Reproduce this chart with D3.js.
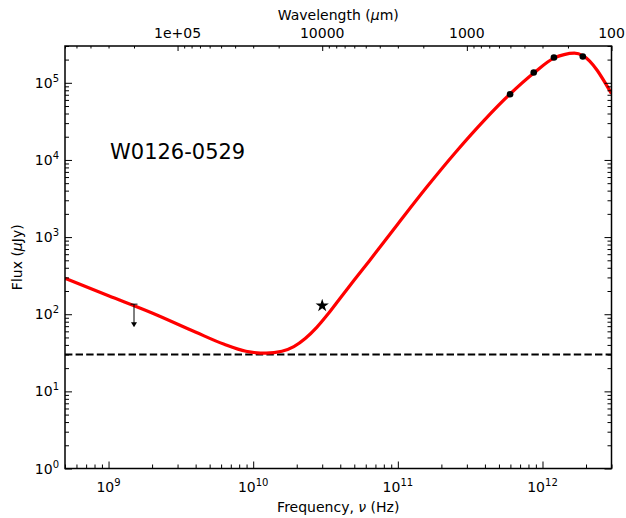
<!DOCTYPE html>
<html>
<head>
<meta charset="utf-8">
<script src="https://cdn.jsdelivr.net/npm/d3@7"></script>
<style>
body { margin: 0; background: #fff; }
svg { font-family: "DejaVu Sans", sans-serif; }
</style>
</head>
<body>
<script>
// model SED (Hz, uJy)
var modelFreq = [5.0e8, 1.0e9, 2.0e9, 3.98e9, 6.31e9, 8.91e9, 1.12e10, 1.23e10, 1.58e10, 1.91e10,
    2.29e10, 2.75e10, 3.31e10, 3.98e10, 5.01e10, 6.31e10, 1.0e11, 1.58e11, 2.51e11, 3.98e11,
    5.97e11, 8.75e11, 1.20e12, 1.41e12, 1.66e12, 1.91e12, 3.0e12];
var modelFlux = [293, 174, 104, 58.9, 40.7, 33.1, 31.4, 31.3, 33.1, 38.0,
    48.4, 67.6, 102, 160, 279, 484, 1480, 4420, 12600, 33100,
    71600, 1.35e5, 2.09e5, 2.32e5, 2.42e5, 2.24e5, 7.24e4];

// far-IR photometry
var photFreq = [5.97e11, 8.7e11, 1.2e12, 1.9e12];
var photFlux = [7.1e4, 1.36e5, 2.13e5, 2.19e5];

// radio detection (star) and upper limit
var starFreq = [3.0e10];
var starFlux = [129];
var limitFreq = [1.5e9];
var limitFlux = [135];
var limitLow = [68];

var noiseLevel = 30;

var freqMajor = [1e9, 1e10, 1e11, 1e12];
var freqExp = ['9', '10', '11', '12'];
var fluxMajor = [1, 10, 100, 1e3, 1e4, 1e5];
var fluxExp = ['0', '1', '2', '3', '4', '5'];
var waveMajor = [1e5, 1e4, 1e3, 100];
var waveLabels = ['1e+05', '10000', '1000', '100'];

var sourceName = 'W0126-0529';
var c_um = 3e14;

var svg = d3.select('body').append('svg')
    .attr('width', 626)
    .attr('height', 518);

var margin = { top: 46, right: 14.5, bottom: 49.5, left: 65 },
    width = +svg.attr('width') - margin.left - margin.right,
    height = +svg.attr('height') - margin.top - margin.bottom,
    g = svg.append('g').attr('transform', 'translate(' + margin.left + ',' + margin.top + ')');

var x = d3.scaleLog().domain([5e8, 3e12]).range([0, width]);
var y = d3.scaleLog().domain([1, 3e5]).range([height, 0]);
var lam = d3.scaleLog().domain([c_um / 5e8, c_um / 3e12]).range([0, width]);

svg.append('defs').append('clipPath').attr('id', 'clip')
    .append('rect').attr('width', width).attr('height', height);

var plot = g.append('g').attr('clip-path', 'url(#clip)');

// noise level
plot.append('line')
    .attr('x1', x(5e8)).attr('x2', x(3e12))
    .attr('y1', y(noiseLevel)).attr('y2', y(noiseLevel))
    .attr('stroke', '#000')
    .attr('stroke-width', 2)
    .attr('stroke-dasharray', '7.4,3.2');

var line = d3.line()
    .x(function (d) { return x(d[0]); })
    .y(function (d) { return y(d[1]); })
    .curve(d3.curveMonotoneX);

plot.append('path')
    .datum(d3.zip(modelFreq, modelFlux))
    .attr('d', line)
    .attr('fill', 'none')
    .attr('stroke', '#ff0000')
    .attr('stroke-width', 3.2);

plot.selectAll('.phot')
    .data(d3.zip(photFreq, photFlux))
    .enter().append('circle')
    .attr('class', 'phot')
    .attr('cx', function (d) { return x(d[0]); })
    .attr('cy', function (d) { return y(d[1]); })
    .attr('r', 3.3)
    .attr('fill', '#000');

plot.selectAll('.star')
    .data(d3.zip(starFreq, starFlux))
    .enter().append('path')
    .attr('class', 'star')
    .attr('transform', function (d) { return 'translate(' + x(d[0]) + ',' + y(d[1]) + ')'; })
    .attr('d', d3.symbol().type(d3.symbolStar).size(55))
    .attr('fill', '#000');

// upper limit arrow
var lim = plot.selectAll('.limit')
    .data(d3.zip(limitFreq, limitFlux, limitLow))
    .enter().append('g')
    .attr('class', 'limit');
lim.append('line')
    .attr('x1', function (d) { return x(d[0]); })
    .attr('x2', function (d) { return x(d[0]); })
    .attr('y1', function (d) { return y(d[1]); })
    .attr('y2', function (d) { return y(d[2]) - 4; })
    .attr('stroke', '#000').attr('stroke-width', 1);
lim.append('line')
    .attr('x1', function (d) { return x(d[0]) - 3.5; })
    .attr('x2', function (d) { return x(d[0]) + 3.5; })
    .attr('y1', function (d) { return y(d[1]); })
    .attr('y2', function (d) { return y(d[1]); })
    .attr('stroke', '#000').attr('stroke-width', 1);
lim.append('path')
    .attr('d', function (d) {
        var px = x(d[0]), py = y(d[2]);
        return 'M' + (px - 3) + ',' + (py - 5) + 'L' + (px + 3) + ',' + (py - 5) + 'L' + px + ',' + py + 'Z';
    })
    .attr('fill', '#000');

// ticks
function minorOf(scale, major) {
    var dom = scale.domain(), lo = Math.min(dom[0], dom[1]), hi = Math.max(dom[0], dom[1]);
    return scale.ticks().filter(function (v) {
        return v >= lo && v <= hi && major.every(function (m) { return Math.abs(m - v) / m > 1e-6; });
    });
}

function addTicks(axisFn, scale, major, tx, ty, bigLen, smallLen) {
    var a = g.append('g').attr('transform', 'translate(' + tx + ',' + ty + ')');
    a.call(axisFn(scale).tickValues(minorOf(scale, major)).tickSizeInner(-smallLen).tickSizeOuter(0).tickFormat(''));
    a.call(function (sel) {
        var b = sel.append('g');
        b.call(axisFn(scale).tickValues(major).tickSizeInner(-bigLen).tickSizeOuter(0).tickFormat(''));
    });
    a.selectAll('.domain').remove();
    a.selectAll('line').attr('stroke-width', 1);
    return a;
}

addTicks(d3.axisBottom, x, freqMajor, 0, height, 7, 4);
addTicks(d3.axisLeft, y, fluxMajor, 0, 0, 7, 4);
addTicks(d3.axisRight, y, fluxMajor, width, 0, 7, 4);
addTicks(d3.axisTop, lam, waveMajor, 0, 0, 5, 2.5);

// frame
g.append('rect')
    .attr('width', width)
    .attr('height', height)
    .attr('fill', 'none')
    .attr('stroke', '#000')
    .attr('stroke-width', 1.5);

// tick labels
var xl = g.selectAll('.xlab')
    .data(freqMajor)
    .enter().append('text')
    .attr('class', 'xlab')
    .attr('x', function (d) { return x(d); })
    .attr('y', height + 23)
    .style('text-anchor', 'middle')
    .style('font-size', '14px');
xl.append('tspan').text('10');
xl.append('tspan')
    .attr('dy', -6)
    .style('font-size', '10px')
    .text(function (d, i) { return freqExp[i]; });

var yl = g.selectAll('.ylab')
    .data(fluxMajor)
    .enter().append('text')
    .attr('class', 'ylab')
    .attr('x', -6)
    .attr('y', function (d) { return y(d) + 5; })
    .style('text-anchor', 'end')
    .style('font-size', '14px');
yl.append('tspan').text('10');
yl.append('tspan')
    .attr('dy', -6)
    .style('font-size', '10px')
    .text(function (d, i) { return fluxExp[i]; });

g.selectAll('.wlab')
    .data(waveMajor)
    .enter().append('text')
    .attr('class', 'wlab')
    .attr('x', function (d) { return lam(d); })
    .attr('y', -8)
    .style('text-anchor', 'middle')
    .style('font-size', '14px')
    .text(function (d, i) { return waveLabels[i]; });

// axis titles
var xt = g.append('text')
    .attr('x', width / 2)
    .attr('y', height + 43)
    .style('text-anchor', 'middle')
    .style('font-size', '14px');
xt.append('tspan').text('Frequency, ');
xt.append('tspan').style('font-style', 'italic').text('ν');
xt.append('tspan').text(' (Hz)');

var wt = g.append('text')
    .attr('x', width / 2)
    .attr('y', -26)
    .style('text-anchor', 'middle')
    .style('font-size', '14px');
wt.append('tspan').text('Wavelength (');
wt.append('tspan').style('font-style', 'italic').text('μ');
wt.append('tspan').text('m)');

var yt = g.append('text')
    .attr('transform', 'translate(' + (-margin.left + 22) + ',' + (height / 2) + ') rotate(-90)')
    .style('text-anchor', 'middle')
    .style('font-size', '14px');
yt.append('tspan').text('Flux (');
yt.append('tspan').style('font-style', 'italic').text('μ');
yt.append('tspan').text('Jy)');

g.append('text')
    .attr('x', 45)
    .attr('y', 112.5)
    .style('font-size', '21px')
    .text(sourceName);
</script>
</body>
</html>
